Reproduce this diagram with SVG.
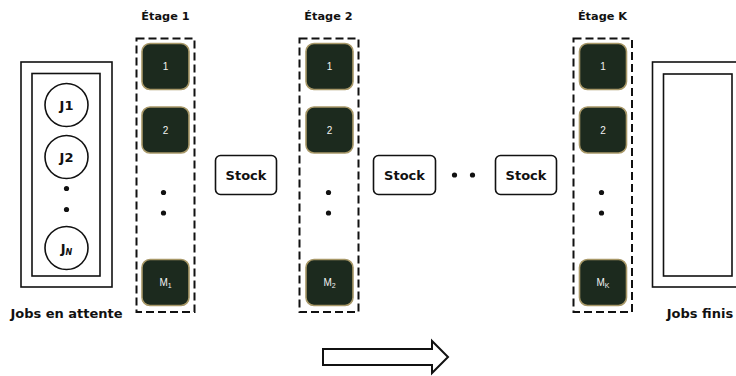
<svg xmlns="http://www.w3.org/2000/svg" width="736" height="376" viewBox="0 0 736 376">
  <defs>
    <style>
      .lbl { font-family: "DejaVu Sans", "Liberation Sans", Arial, sans-serif; font-weight: bold; fill: #111; }
      .title { font-size: 11.3px; }
      .caption { font-size: 13px; }
      .frame { fill: #fff; stroke: #111; stroke-width: 1.6; }
      .job { fill: #fff; stroke: #111; stroke-width: 1.6; }
      .jobtxt { font-size: 13px; text-anchor: middle; }
      .stage { fill: none; stroke: #111; stroke-width: 2; stroke-dasharray: 8 4; }
      .mach { fill: #1c2a1e; stroke: #a89868; stroke-width: 1.6; }
      .machtxt { font-family: "Liberation Sans", Arial, sans-serif; font-size: 10px; fill: #f2f2f2; text-anchor: middle; }
      .stock { fill: #fff; stroke: #111; stroke-width: 1.6; }
      .stocktxt { font-size: 13px; text-anchor: middle; }
      .dot { fill: #111; }
      .flow { fill: #fff; stroke: #111; stroke-width: 2; stroke-linejoin: miter; }
    </style>
  </defs>

  <!-- waiting jobs -->
  <g id="jobs-waiting">
    <rect class="frame" x="21" y="62" width="91" height="225"/>
    <rect class="frame" x="32" y="73.5" width="68" height="202.5"/>
    <circle class="job" cx="66.5" cy="105" r="21.5"/>
    <text class="lbl jobtxt" x="66.5" y="110">J1</text>
    <circle class="job" cx="66.5" cy="157" r="21.5"/>
    <text class="lbl jobtxt" x="66.5" y="162">J2</text>
    <circle class="dot" cx="66.5" cy="188.5" r="2.6"/>
    <circle class="dot" cx="66.5" cy="209.5" r="2.6"/>
    <circle class="job" cx="66.5" cy="248" r="21.5"/>
    <text class="lbl jobtxt" x="66.5" y="253">J<tspan font-size="8" font-style="italic" dy="2">N</tspan></text>
    <text class="lbl caption" x="66.5" y="318" text-anchor="middle">Jobs en attente</text>
  </g>

  <!-- stage 1 -->
  <g id="stage-1">
    <text class="lbl title" x="165.5" y="20" text-anchor="middle">Étage 1</text>
    <rect class="stage" x="136.5" y="38.5" width="58" height="273.5"/>
    <rect class="mach" x="142" y="43.5" width="47" height="46" rx="8"/>
    <text class="machtxt" x="165.5" y="70">1</text>
    <rect class="mach" x="142" y="107" width="47" height="46" rx="8"/>
    <text class="machtxt" x="165.5" y="133.5">2</text>
    <circle class="dot" cx="163.5" cy="192.5" r="2.6"/>
    <circle class="dot" cx="163.5" cy="213" r="2.6"/>
    <rect class="mach" x="142" y="259.5" width="47" height="46" rx="8"/>
    <text class="machtxt" x="165.5" y="286">M<tspan font-size="7" dy="2">1</tspan></text>
  </g>

  <!-- stock 1 -->
  <g id="stock-1">
    <rect class="stock" x="215.5" y="155.5" width="61" height="39" rx="5"/>
    <text class="lbl stocktxt" x="246" y="180">Stock</text>
  </g>

  <!-- stage 2 -->
  <g id="stage-2">
    <text class="lbl title" x="328.5" y="20" text-anchor="middle">Étage 2</text>
    <rect class="stage" x="299.5" y="38.5" width="59" height="273.5"/>
    <rect class="mach" x="306" y="43.5" width="47" height="46" rx="8"/>
    <text class="machtxt" x="329.5" y="70">1</text>
    <rect class="mach" x="306" y="107" width="47" height="46" rx="8"/>
    <text class="machtxt" x="329.5" y="133.5">2</text>
    <circle class="dot" cx="328.5" cy="192.5" r="2.6"/>
    <circle class="dot" cx="328.5" cy="213" r="2.6"/>
    <rect class="mach" x="306" y="259.5" width="47" height="46" rx="8"/>
    <text class="machtxt" x="329.5" y="286">M<tspan font-size="7" dy="2">2</tspan></text>
  </g>

  <!-- stock 2 -->
  <g id="stock-2">
    <rect class="stock" x="373.5" y="155.5" width="62" height="39" rx="5"/>
    <text class="lbl stocktxt" x="404.5" y="180">Stock</text>
  </g>

  <!-- intermediate stages -->
  <g id="ellipsis">
    <circle class="dot" cx="454.5" cy="175" r="2.6"/>
    <circle class="dot" cx="472.5" cy="175" r="2.6"/>
  </g>

  <!-- stock K-1 -->
  <g id="stock-k">
    <rect class="stock" x="495.5" y="155.5" width="61" height="39" rx="5"/>
    <text class="lbl stocktxt" x="526" y="180">Stock</text>
  </g>

  <!-- stage K -->
  <g id="stage-k">
    <text class="lbl title" x="602.5" y="20" text-anchor="middle">Étage K</text>
    <rect class="stage" x="573.5" y="38.5" width="58.5" height="273.5"/>
    <rect class="mach" x="579.5" y="43.5" width="47" height="46" rx="8"/>
    <text class="machtxt" x="603" y="70">1</text>
    <rect class="mach" x="579.5" y="107" width="47" height="46" rx="8"/>
    <text class="machtxt" x="603" y="133.5">2</text>
    <circle class="dot" cx="601.5" cy="192.5" r="2.6"/>
    <circle class="dot" cx="601.5" cy="213" r="2.6"/>
    <rect class="mach" x="579.5" y="259.5" width="47" height="46" rx="8"/>
    <text class="machtxt" x="603" y="286">M<tspan font-size="7" dy="2">K</tspan></text>
  </g>

  <!-- finished jobs -->
  <g id="jobs-done">
    <rect class="frame" x="652.5" y="62" width="92" height="225"/>
    <rect class="frame" x="663.5" y="74" width="68.5" height="202"/>
    <text class="lbl caption" x="700" y="318" text-anchor="middle">Jobs finis</text>
  </g>

  <!-- direction of flow -->
  <g id="connectors">
    <path class="flow" d="M323,349 H432 V341 L448,357 L432,373 V365 H323 Z"/>
  </g>
</svg>
